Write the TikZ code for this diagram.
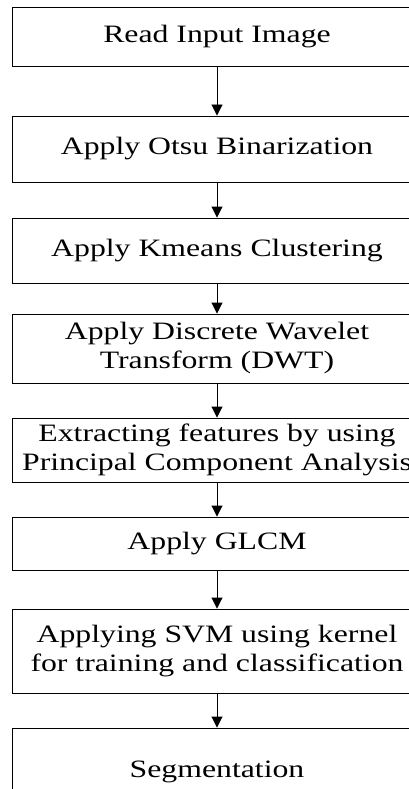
\documentclass[tikz,border=0pt]{standalone}
\usepackage{fontspec}
\setmainfont{Liberation Serif}
\usepackage{graphicx}
\usetikzlibrary{arrows.meta, positioning}

\newcommand{\steptext}[1]{\scalebox{1.27}[1]{\begin{tabular}{@{}c@{}}#1\end{tabular}}}

\begin{document}
\begin{tikzpicture}[
        x=1pt, y=-1pt,
        font=\fontsize{25}{29}\selectfont,
        every node/.style={align=center},
        stepbox/.style={rectangle, draw=black, fill=white, line width=0.9pt, inner sep=0pt, minimum width=410pt},
        arrow/.style={-{Triangle[length=11pt, width=11pt]}, draw=black, line width=0.9pt}
      ]
        \useasboundingbox (0,0) rectangle (409,789);
        \clip (0,0) rectangle (409,789);

        % Node 1: Input
        \node[stepbox, minimum height=59pt] (read) at (217,36.5) {\steptext{Read Input Image}};

        % Node 2: Binarization
        \node[stepbox, minimum height=66pt] (otsu) at (217,149) {\steptext{Apply Otsu Binarization}};

        % Node 3: Clustering
        \node[stepbox, minimum height=65pt] (kmeans) at (217,250.5) {\steptext{Apply Kmeans Clustering}};

        % Node 4: Wavelet
        \node[stepbox, minimum height=69pt] (dwt) at (217,348.5) {\steptext{Apply Discrete Wavelet\\Transform (DWT)}};

        % Node 5: Feature extraction
        \node[stepbox, minimum height=64pt] (pca) at (217,450) {\steptext{Extracting features by using\\Principal Component Analysis}};

        % Node 6: Texture
        \node[stepbox, minimum height=53pt] (glcm) at (217,543.5) {\steptext{Apply GLCM}};

        % Node 7: Classifier
        \node[stepbox, minimum height=84pt] (svm) at (217,651) {\steptext{Applying SVM using kernel\\for training and classification}};

        % Node 8: Output
        \node[stepbox, minimum height=88pt] (seg) at (217,772) {\steptext{Segmentation}};

        % Connections
        \draw[arrow] (read) -- (otsu);
        \draw[arrow] (otsu) -- (kmeans);
        \draw[arrow] (kmeans) -- (dwt);
        \draw[arrow] (dwt) -- (pca);
        \draw[arrow] (pca) -- (glcm);
        \draw[arrow] (glcm) -- (svm);
        \draw[arrow] (svm) -- (seg);
      \end{tikzpicture}
\end{document}
